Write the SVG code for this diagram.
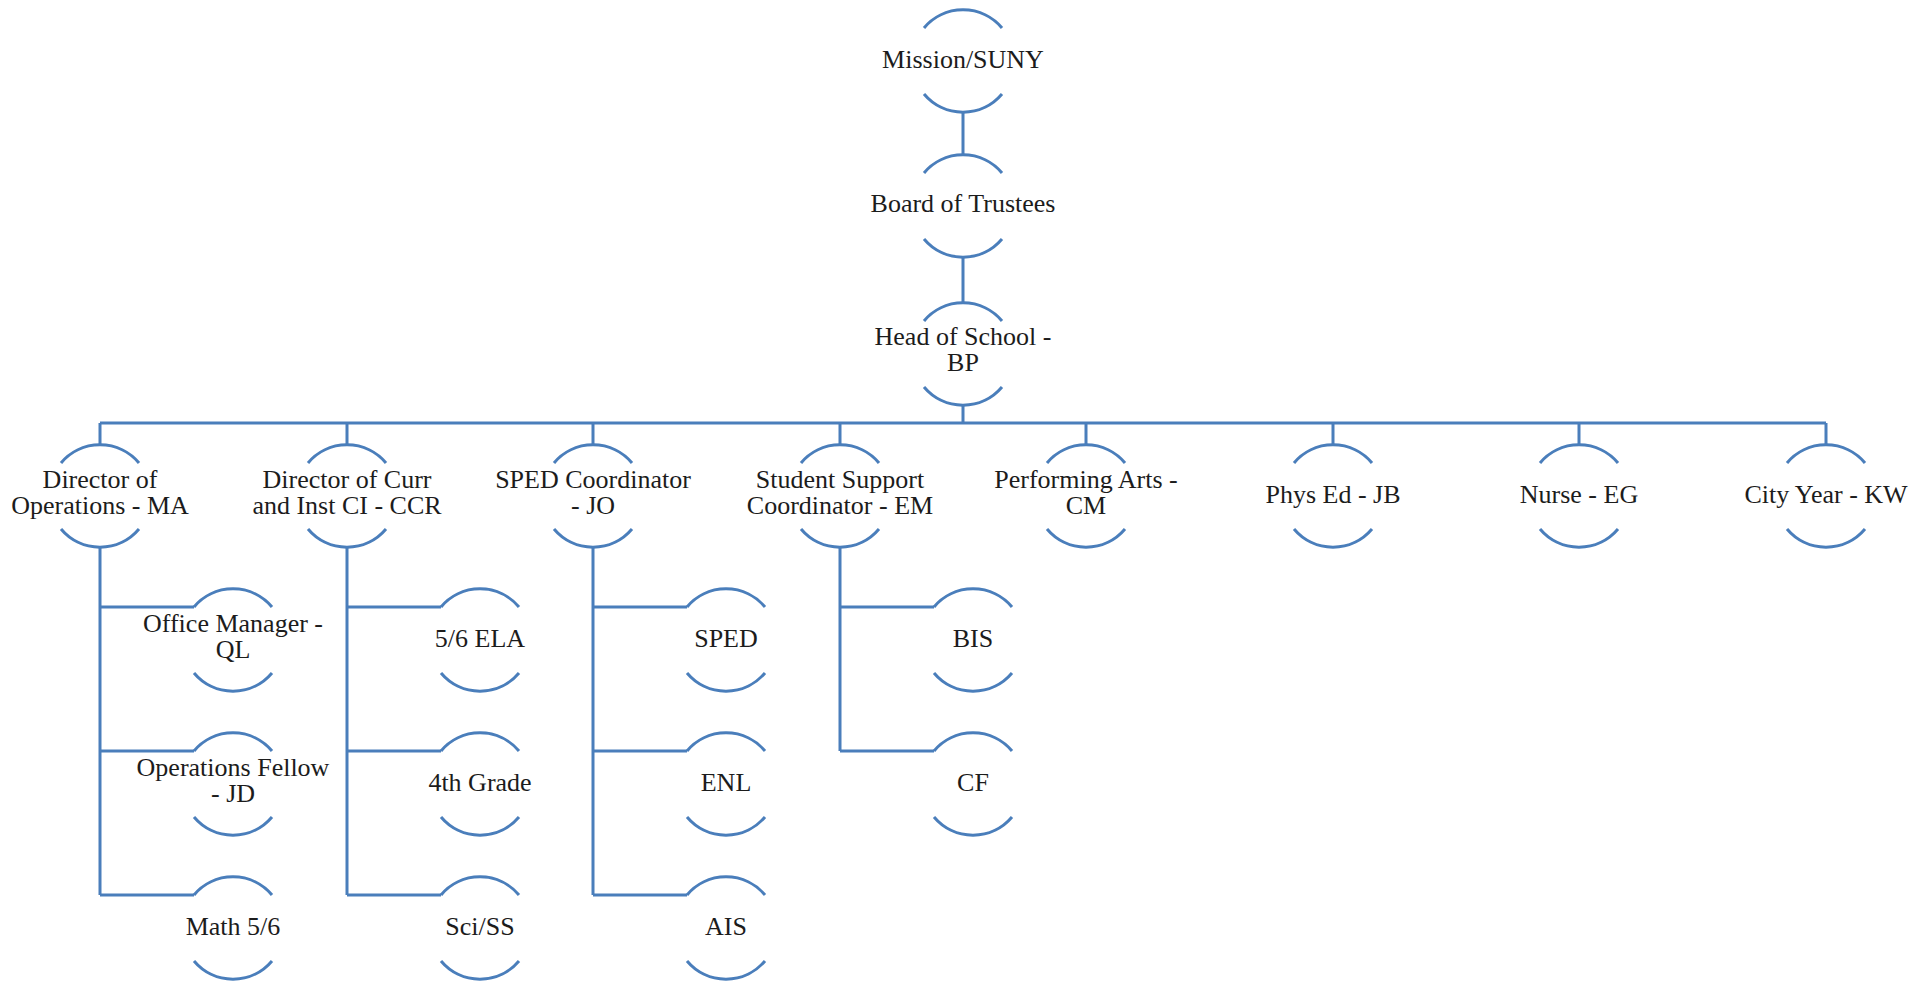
<svg xmlns="http://www.w3.org/2000/svg" width="1925" height="982" viewBox="0 0 1925 982">
<style>
.arc{fill:none;stroke:#4a7ebb;stroke-width:3}
.con{fill:none;stroke:#4a7ebb;stroke-width:3}
text{font-family:"Liberation Serif","Times New Roman",serif;font-size:26px;fill:#1c1c1c;text-anchor:middle}
</style>
<rect width="1925" height="982" fill="#ffffff"/>
<g id="connectors" class="con">
<path d="M963 112V155M963 257V303M963 405V423M100 423H1826"/>
<path d="M100 423V445M347 423V445M593 423V445M840 423V445M1086 423V445M1333 423V445M1579 423V445M1826 423V445"/>
<path d="M100 547V895M100 607H194M100 751H194M100 895H194"/>
<path d="M347 547V895M347 607H441M347 751H441M347 895H441"/>
<path d="M593 547V895M593 607H687M593 751H687M593 895H687"/>
<path d="M840 547V751M840 607H934M840 751H934"/>
</g>
<g id="n-mission"><path class="arc" d="M924 28A51 51 0 0 1 1002 28M924 94A51 51 0 0 0 1002 94"/><text x="963" y="68">Mission/SUNY</text></g>
<g id="n-board"><path class="arc" d="M924 173A51 51 0 0 1 1002 173M924 239A51 51 0 0 0 1002 239"/><text x="963" y="212">Board of Trustees</text></g>
<g id="n-head"><path class="arc" d="M924 321A51 51 0 0 1 1002 321M924 387A51 51 0 0 0 1002 387"/><text x="963" y="345">Head of School -</text><text x="963" y="371">BP</text></g>
<g id="n-ops"><path class="arc" d="M61 463A51 51 0 0 1 139 463M61 529A51 51 0 0 0 139 529"/><text x="100" y="488">Director of</text><text x="100" y="514">Operations - MA</text></g>
<g id="n-curr"><path class="arc" d="M308 463A51 51 0 0 1 386 463M308 529A51 51 0 0 0 386 529"/><text x="347" y="488">Director of Curr</text><text x="347" y="514">and Inst CI - CCR</text></g>
<g id="n-sped-coord"><path class="arc" d="M554 463A51 51 0 0 1 632 463M554 529A51 51 0 0 0 632 529"/><text x="593" y="488">SPED Coordinator</text><text x="593" y="514">- JO</text></g>
<g id="n-student"><path class="arc" d="M801 463A51 51 0 0 1 879 463M801 529A51 51 0 0 0 879 529"/><text x="840" y="488">Student Support</text><text x="840" y="514">Coordinator - EM</text></g>
<g id="n-perf"><path class="arc" d="M1047 463A51 51 0 0 1 1125 463M1047 529A51 51 0 0 0 1125 529"/><text x="1086" y="488">Performing Arts -</text><text x="1086" y="514">CM</text></g>
<g id="n-phys"><path class="arc" d="M1294 463A51 51 0 0 1 1372 463M1294 529A51 51 0 0 0 1372 529"/><text x="1333" y="503">Phys Ed - JB</text></g>
<g id="n-nurse"><path class="arc" d="M1540 463A51 51 0 0 1 1618 463M1540 529A51 51 0 0 0 1618 529"/><text x="1579" y="503">Nurse - EG</text></g>
<g id="n-city"><path class="arc" d="M1787 463A51 51 0 0 1 1865 463M1787 529A51 51 0 0 0 1865 529"/><text x="1826" y="503">City Year - KW</text></g>
<g id="n-office"><path class="arc" d="M194 607A51 51 0 0 1 272 607M194 673A51 51 0 0 0 272 673"/><text x="233" y="632">Office Manager -</text><text x="233" y="658">QL</text></g>
<g id="n-fellow"><path class="arc" d="M194 751A51 51 0 0 1 272 751M194 817A51 51 0 0 0 272 817"/><text x="233" y="776">Operations Fellow</text><text x="233" y="802">- JD</text></g>
<g id="n-math"><path class="arc" d="M194 895A51 51 0 0 1 272 895M194 961A51 51 0 0 0 272 961"/><text x="233" y="935">Math 5/6</text></g>
<g id="n-ela"><path class="arc" d="M441 607A51 51 0 0 1 519 607M441 673A51 51 0 0 0 519 673"/><text x="480" y="647">5/6 ELA</text></g>
<g id="n-4th"><path class="arc" d="M441 751A51 51 0 0 1 519 751M441 817A51 51 0 0 0 519 817"/><text x="480" y="791">4th Grade</text></g>
<g id="n-sci"><path class="arc" d="M441 895A51 51 0 0 1 519 895M441 961A51 51 0 0 0 519 961"/><text x="480" y="935">Sci/SS</text></g>
<g id="n-sped"><path class="arc" d="M687 607A51 51 0 0 1 765 607M687 673A51 51 0 0 0 765 673"/><text x="726" y="647">SPED</text></g>
<g id="n-enl"><path class="arc" d="M687 751A51 51 0 0 1 765 751M687 817A51 51 0 0 0 765 817"/><text x="726" y="791">ENL</text></g>
<g id="n-ais"><path class="arc" d="M687 895A51 51 0 0 1 765 895M687 961A51 51 0 0 0 765 961"/><text x="726" y="935">AIS</text></g>
<g id="n-bis"><path class="arc" d="M934 607A51 51 0 0 1 1012 607M934 673A51 51 0 0 0 1012 673"/><text x="973" y="647">BIS</text></g>
<g id="n-cf"><path class="arc" d="M934 751A51 51 0 0 1 1012 751M934 817A51 51 0 0 0 1012 817"/><text x="973" y="791">CF</text></g>
</svg>
